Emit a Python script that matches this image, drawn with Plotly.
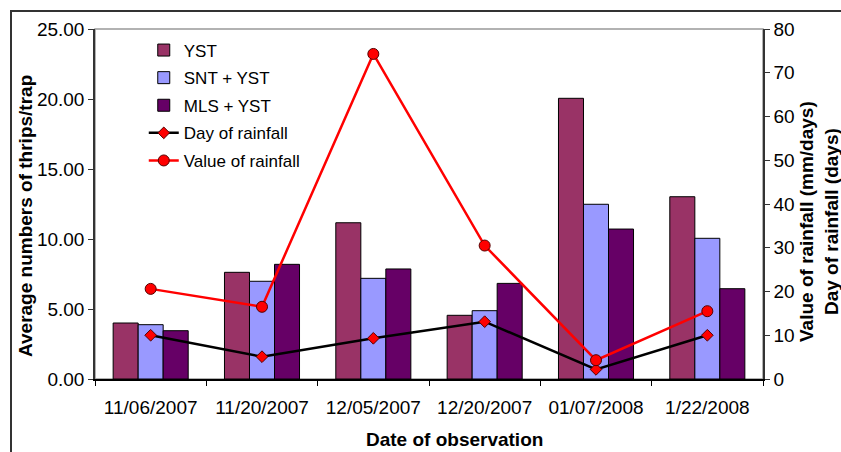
import plotly.graph_objects as go

dates = ["11/06/2007", "11/20/2007", "12/05/2007", "12/20/2007", "01/07/2008", "1/22/2008"]
yst = [4.00, 7.62, 11.16, 4.55, 20.05, 13.02]
snt_yst = [3.88, 6.98, 7.19, 4.88, 12.48, 10.05]
mls_yst = [3.45, 8.19, 7.86, 6.83, 10.71, 6.45]
day_rain = [10.0, 5.1, 9.3, 13.1, 2.2, 10.0]
value_rain = [20.6, 16.5, 74.3, 30.5, 4.3, 15.5]

FONT = "Arial, Liberation Sans, sans-serif"

fig = go.Figure()
bar_specs = [("YST", yst, "#993366"), ("SNT + YST", snt_yst, "#9999FF"), ("MLS + YST", mls_yst, "#660066")]
for name, vals, col in bar_specs:
    fig.add_trace(go.Bar(x=dates, y=vals, name=name, legendgroup=name,
                         marker=dict(color=col, line=dict(color="#000000", width=1))))

fig.add_trace(go.Scatter(x=dates, y=day_rain, name="Day of rainfall", legendgroup="day", yaxis="y2",
                         mode="lines+markers", line=dict(color="#000000", width=2.5),
                         marker=dict(symbol="diamond", size=9, color="#FF0000", line=dict(color="#550000", width=1))))
fig.add_trace(go.Scatter(x=dates, y=value_rain, name="Value of rainfall", legendgroup="value", yaxis="y2",
                         mode="lines+markers", line=dict(color="#FF0000", width=2.5),
                         marker=dict(symbol="circle", size=11, color="#FF0000", line=dict(color="#550000", width=1))))

fig.update_layout(
    width=841, height=452,
    margin=dict(l=95, r=78, t=29, b=73),
    paper_bgcolor="white", plot_bgcolor="white",
    font=dict(family=FONT, color="#000000", size=18),
    barmode="group", bargap=0.326, bargroupgap=0,
    showlegend=True,
    legend=dict(x=0.073, y=0.99, xanchor="left", yanchor="top", bgcolor="rgba(0,0,0,0)",
                font=dict(size=17, family=FONT), traceorder="grouped", tracegroupgap=2.5),
    xaxis=dict(type="category", showgrid=False, showline=True, linecolor="#000000", linewidth=1.5,
               ticks="outside", tickson="boundaries", ticklen=5, tickcolor="#000000",
               tickfont=dict(size=19), ticklabelstandoff=10),
    yaxis=dict(range=[0, 25], dtick=5, tickformat=".2f", showgrid=False, zeroline=False,
               showline=True, linecolor="#333333", linewidth=1.5, ticks="outside", ticklen=5,
               tickcolor="#333333", tickfont=dict(size=19)),
    yaxis2=dict(range=[0, 80], dtick=10, overlaying="y", side="right", showgrid=False, zeroline=False,
                showline=True, linecolor="#333333", linewidth=1.5, ticks="outside", ticklen=5,
                tickcolor="#333333", tickfont=dict(size=19)),
    shapes=[
        dict(type="rect", xref="paper", yref="paper", x0=0, x1=1, y0=0, y1=1,
             line=dict(color="#999999", width=1.5), layer="below"),
        dict(type="rect", xref="paper", yref="paper", x0=(11 - 95) / 668, x1=1.2, y0=(379 - 470) / 350,
             y1=(379 - 11) / 350, line=dict(color="#333333", width=2)),
    ],
    annotations=[
        dict(text="<b>Average numbers of thrips/trap</b>", xref="paper", yref="paper",
             x=(25 - 95) / 668, y=(379 - 216) / 350, textangle=-90, showarrow=False,
             xanchor="center", yanchor="middle", font=dict(size=19)),
        dict(text="<b>Date of observation</b>", xref="paper", yref="paper",
             x=(454 - 95) / 668, y=(379 - 439) / 350, showarrow=False,
             xanchor="center", yanchor="middle", font=dict(size=19)),
        dict(text="<b>Value of rainfall (mm/days)<br>Day of rainfall (days)</b>", xref="paper", yref="paper",
             x=(819 - 95) / 668, y=(379 - 222) / 350, textangle=-90, showarrow=False,
             xanchor="center", yanchor="middle", font=dict(size=19)),
    ],
)

fig.write_html("out.html", config={"displayModeBar": False},
               post_script="document.body.style.margin='0';document.body.style.overflow='hidden';")
